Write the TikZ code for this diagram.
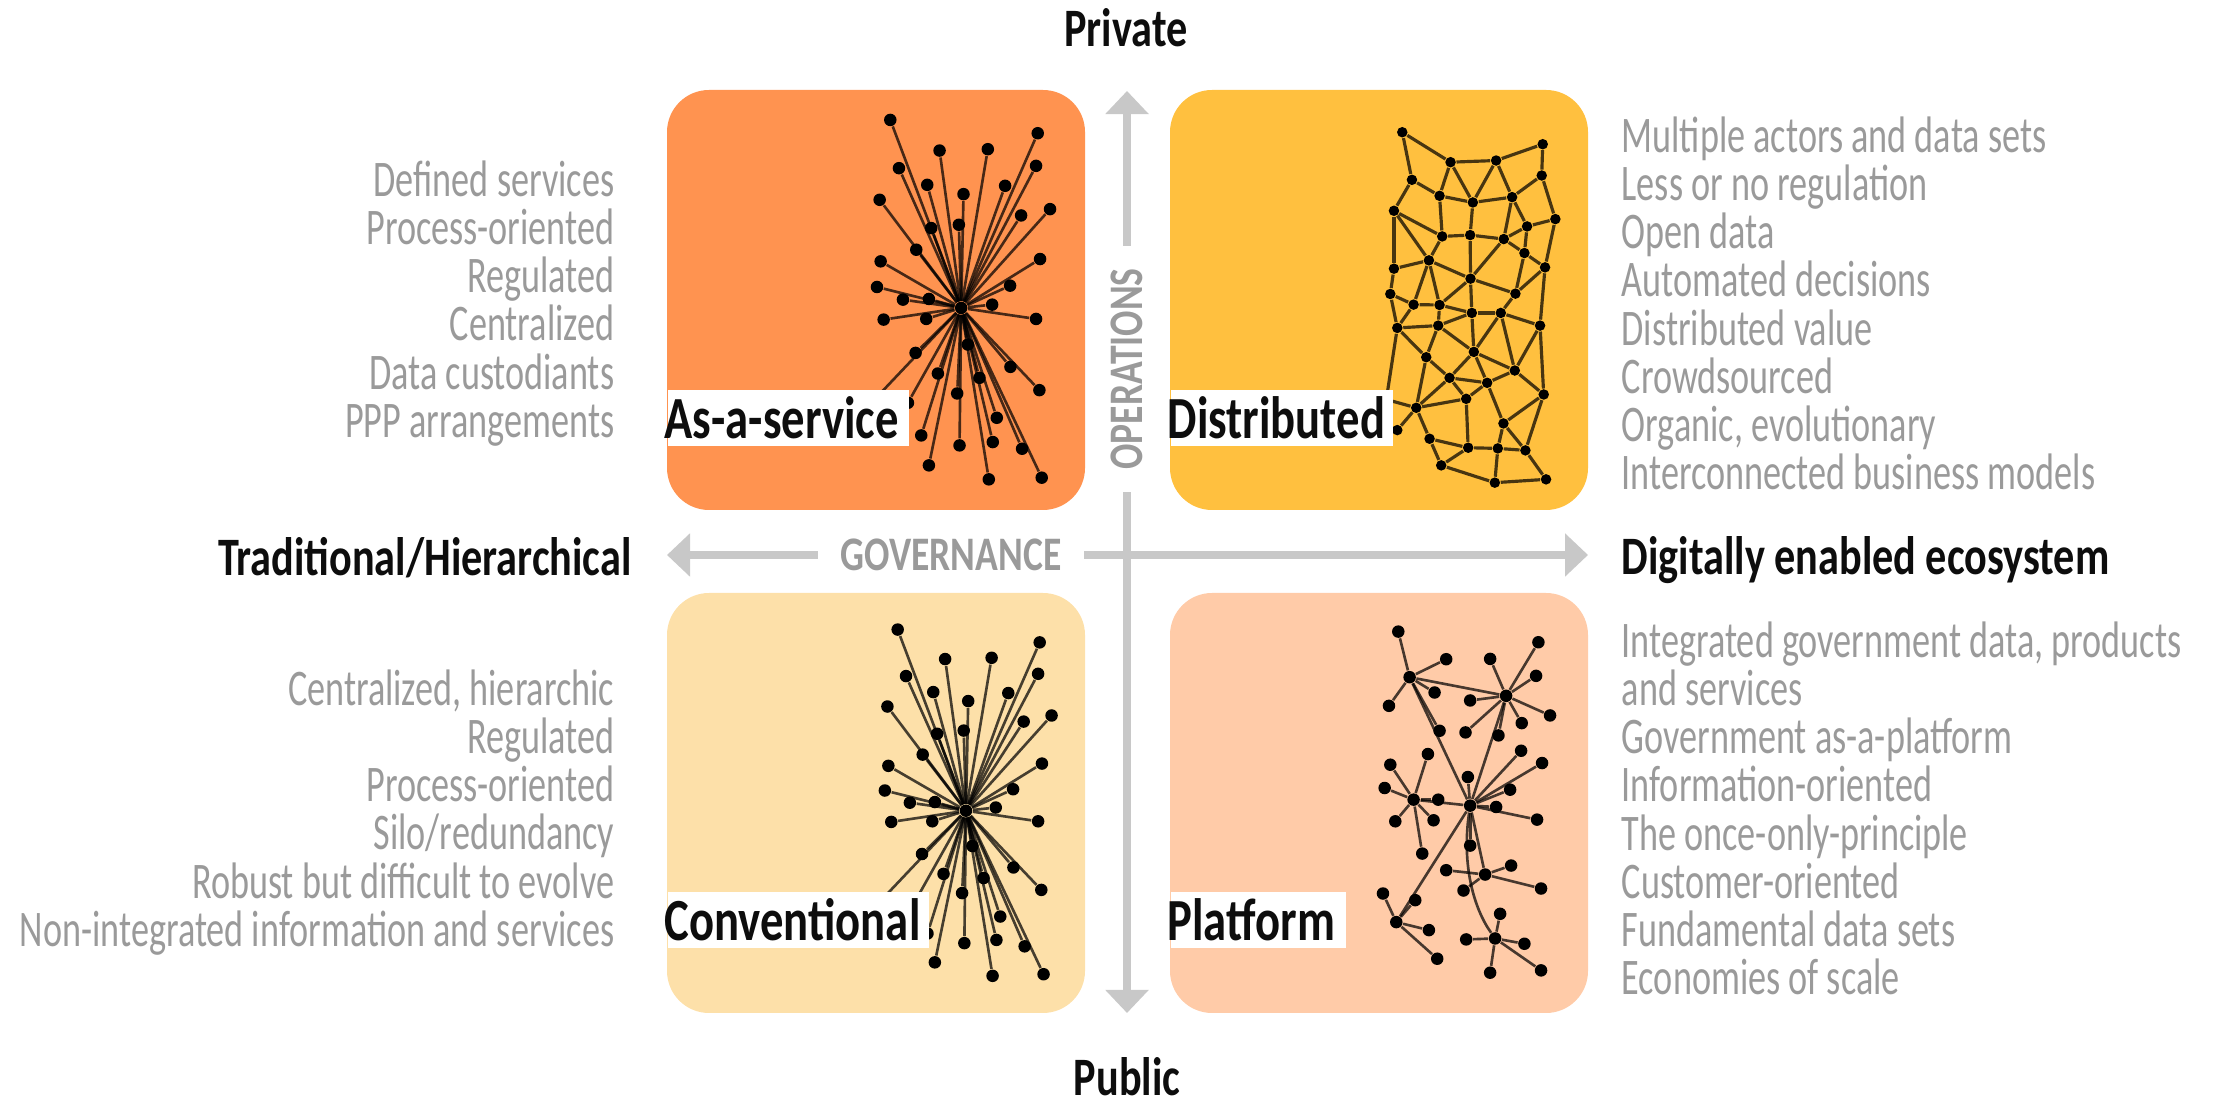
\documentclass[tikz,border=0pt]{standalone}
\usepackage{fontspec}
\setmainfont[FakeStretch=0.705,BoldFeatures={FakeStretch=0.78}]{Carlito}
\usetikzlibrary{arrows.meta}

\definecolor{serviceorange}{HTML}{FF9350}
\definecolor{distributedyellow}{HTML}{FFC03F}
\definecolor{conventionalcream}{HTML}{FDE0A9}
\definecolor{platformpeach}{HTML}{FFCBA8}
\definecolor{axisgrey}{HTML}{C8C8C8}
\definecolor{notegrey}{HTML}{9A9A9A}

\tikzset{
    panel/.style={rounded corners=0.42cm},
    dot/.style={circle, fill=black, inner sep=0pt, minimum size=0.125cm},
    link/.style={draw=black, draw opacity=0.72, line width=0.75pt},
    tag/.style={fill=white, inner xsep=0pt, inner ysep=0pt, text width=#1, minimum height=0.56cm,
        anchor=west, text=black!95, font=\fontsize{17}{20}\selectfont\bfseries},
    notes/.style={inner sep=0pt, text=notegrey, font=\fontsize{14.6}{13.7}\selectfont},
    heading/.style={inner sep=0pt, text=black!95, font=\fontsize{15.4}{18}\selectfont\bfseries},
    axisname/.style={inner ysep=0pt, inner xsep=0.22cm, text=notegrey, font=\fontsize{13.7}{17}\selectfont\bfseries},
    axisline/.style={draw=axisgrey, line width=0.08cm, -{Triangle[width=0.42cm,length=0.23cm]}},
    crop/.style={x=0.0033333cm, y=-0.0033333cm}
}

% hub #1 with its leaves #2
\newcommand{\spokes}[2]{
    \foreach \x/\y [count=\i] in {#2} {
        \node[dot] (#1-\i) at (\x,\y) {};
        \draw[link] (#1) -- (#1-\i);
    }
}
\newcommand{\burst}[1]{
    \node[dot] (#1) at (905,685) {};
    \spokes{#1}{692/120, 1135/160, 840/212, 985/208, 718/265, 1130/258, 803/315, 1037/318,
        912/343, 660/360, 1172/388, 1085/407, 815/445, 898/435, 770/510, 663/545, 1142/538, 652/622,
        1052/618, 730/660, 808/658, 998/675, 672/720, 800/718, 1130/718, 925/795, 768/820, 1053/862,
        835/882, 960/895, 1140/932, 893/942, 745/970, 640/965, 1012/1015, 785/1068, 900/1098, 1000/1088,
        1088/1108, 808/1158, 988/1200, 1147/1195}
}

\begin{document}
\begin{tikzpicture}[x=0.01cm, y=-0.01cm]
    \useasboundingbox (0,0) rectangle (2218,1101);

    % panels
    \fill[panel, serviceorange] (667,90) rectangle (1085,510);
    \fill[panel, distributedyellow] (1170,90) rectangle (1588,510);
    \fill[panel, conventionalcream] (667,593) rectangle (1085,1013);
    \fill[panel, platformpeach] (1170,593) rectangle (1588,1013);

    % axes
    \node[axisname] (gov) at (951,555) {GOVERNANCE};
    \node[axisname, rotate=90] (ops) at (1127,369) {OPERATIONS};
    \coordinate (west) at (667,555);
    \coordinate (east) at (1588,555);
    \coordinate (north) at (1127,91);
    \coordinate (south) at (1127,1013);
    \draw[axisline] (gov) -- (west);
    \draw[axisline] (gov) -- (east);
    \draw[axisline] (ops) -- (north);
    \draw[axisline] (ops) -- (south);

    % as-a-service
    \begin{scope}[shift={(660,80)}, crop]
        \burst{serve}
    \end{scope}

    % conventional
    \begin{scope}[shift={(675.8,591.1)}, x=0.0032cm, y=-0.0032cm]
        \burst{conv}
    \end{scope}

    % distributed
    \begin{scope}[shift={(1160,80)}, crop]
        \foreach \x/\y [count=\i] in {728/157, 1150/193, 873/247, 1010/242, 1147/287, 757/300, 840/348,
            940/368, 1058/352, 703/393, 1188/418, 1103/440, 848/470, 932/466, 1033/478, 1095/520,
            808/542, 1157/563, 703/567, 933/597, 692/643, 1068/642, 762/675, 840/676, 937/700,
            1024/700, 713/745, 836/738, 1142/738, 800/833, 943/817, 1066/873, 870/895, 983/910,
            1153/945, 920/958, 770/985, 1032/1032, 713/1052, 810/1078, 926/1105, 1015/1107,
            1098/1113, 845/1158, 1006/1210, 1160/1200, 680/960}
            \node[dot, minimum size=0.105cm] (d\i) at (\x,\y) {};
        \foreach \a/\b in {1/3, 1/6, 3/4, 4/2, 2/5, 3/7, 3/8, 4/8, 4/9, 5/9, 5/11, 6/7, 6/10, 7/8, 8/9,
            7/13, 8/14, 9/15, 9/12, 10/13, 10/17, 10/19, 11/12, 11/18, 12/15, 12/16, 13/14, 14/15,
            13/17, 14/20, 15/20, 15/16, 16/18, 16/22, 17/19, 17/20, 17/23, 17/24, 18/22, 18/29,
            19/21, 20/22, 20/24, 20/25, 21/23, 21/27, 22/26, 26/29, 23/24, 24/25, 25/26, 23/27,
            24/28, 27/28, 28/25, 25/31, 26/31, 26/32, 28/31, 28/30, 27/30, 27/47, 47/37, 29/32,
            31/32, 31/33, 31/34, 30/33, 33/34, 33/36, 33/37, 34/32, 34/36, 32/35, 29/35, 35/38,
            34/38, 36/37, 36/41, 38/42, 38/43, 35/43, 37/40, 37/39, 40/44, 40/41, 41/44, 41/42,
            42/43, 42/45, 43/46, 44/45, 45/46, 30/37}
            \draw[link, line width=0.9pt] (d\a) -- (d\b);
    \end{scope}

    % platform
    \begin{scope}[shift={(1160,590)}, crop]
        \node[dot] (hubA) at (750,262) {};
        \node[dot] (hubB) at (1040,318) {};
        \node[dot] (hubC) at (762,630) {};
        \node[dot] (hubM) at (932,648) {};
        \node[dot] (hubD) at (977,855) {};
        \node[dot] (hubE) at (710,998) {};
        \node[dot] (hubF) at (1007,1047) {};
        \spokes{hubA}{716/125, 860/208, 825/308, 688/348, 840/423}
        \spokes{hubB}{992/207, 1137/157, 1130/258, 932/332, 1172/377, 1087/400, 918/428, 1017/437}
        \spokes{hubC}{692/525, 805/493, 675/595, 836/630, 707/695, 822/692, 788/792}
        \spokes{hubM}{925/562, 1085/483, 1148/520, 1052/600, 1010/652, 1133/690, 932/768}
        \spokes{hubD}{860/842, 1055/828, 912/903, 1145/897}
        \spokes{hubE}{670/912, 767/932, 808/1022, 833/1108}
        \spokes{hubF}{1022/973, 920/1050, 1095/1063, 992/1150, 1145/1143}
        \draw[link] (hubA) -- (hubB);
        \draw[link] (hubA) -- (hubM);
        \draw[link] (hubB) -- (hubM);
        \draw[link] (hubC) -- (hubM);
        \draw[link] (hubM) -- (hubD);
        \draw[link] (hubM) -- (hubE);
        \draw[link] (hubM) .. controls (905,830) and (945,960) .. (hubF);
    \end{scope}

    % panel names
    \node[tag=2.41cm] (asservice) at (667,418) {\hspace*{-0.03cm}As-a-service};
    \node[tag=2.22cm] (distributed) at (1170,418) {\hspace*{-0.03cm}Distributed};
    \node[tag=2.61cm] (conventional) at (667,920) {\hspace*{-0.03cm}Conventional};
    \node[tag=1.75cm] (platform) at (1170,920) {\hspace*{-0.03cm}Platform};

    % end labels
    \node[heading] (private) at (1126,28) {Private};
    \node[heading] (public) at (1127,1077) {Public};
    \node[heading, anchor=east] (traditional) at (632,558) {Traditional/Hierarchical};
    \node[heading, anchor=west] (digital) at (1621,560) {Digitally enabled ecosystem};

    % feature lists
    \node[notes, anchor=north east, align=right] (servicenotes) at (615,160) {Defined services\\
        Process-oriented\\ Regulated\\ Centralized\\ Data custodiants\\ PPP arrangements};
    \node[notes, anchor=north east, align=right] (conventionalnotes) at (615,669) {Centralized, hierarchic\\
        Regulated\\ Process-oriented\\ Silo/redundancy\\ Robust but difficult to evolve\\
        Non-integrated information and services};
    \node[notes, anchor=north west, align=left] (distributednotes) at (1621,116) {Multiple actors and data sets\\
        Less or no regulation\\ Open data\\ Automated decisions\\ Distributed value\\ Crowdsourced\\
        Organic, evolutionary\\ Interconnected business models};
    \node[notes, anchor=north west, align=left] (platformnotes) at (1621,621) {Integrated government data, products\\
        and services\\ Government as-a-platform\\ Information-oriented\\ The once-only-principle\\
        Customer-oriented\\ Fundamental data sets\\ Economies of scale};
\end{tikzpicture}
\end{document}
